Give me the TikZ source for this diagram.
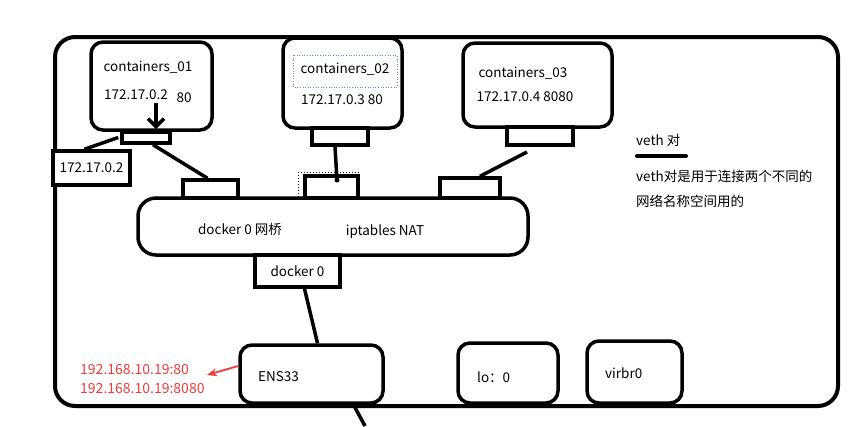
\documentclass[tikz,border=0pt]{standalone}
\usepackage{fontspec}
\setmainfont{Noto Sans CJK SC}
\usetikzlibrary{arrows.meta,calc}
\definecolor{redtxt}{RGB}{240,60,60}
\definecolor{selblue}{RGB}{100,140,180}
\tikzset{
  box/.style={draw, line width=3.5pt, rounded corners=12pt, inner sep=0pt, fill=white},
  port/.style={draw, line width=3.5pt, inner sep=0pt, fill=white},
  wire/.style={line width=3.5pt},
  lbl/.style={inner sep=0pt, font=\fontsize{13.5}{16}\selectfont},
  lbll/.style={lbl, anchor=west},
}
\begin{document}
\begin{tikzpicture}[x=1pt, y=-1pt]
\useasboundingbox (0,0) rectangle (862,426);
% outer frame
\draw[line width=4pt, rounded corners=20pt] (55,37) rectangle (838,406);
% containers
\node[box, minimum width=121pt, minimum height=88pt] (c1) at (151.5,86) {};
\node[box, minimum width=119pt, minimum height=90pt] (c2) at (342.5,83) {};
\node[box, minimum width=149pt, minimum height=84pt] (c3) at (537.5,85) {};
% ports under containers
\node[port, minimum width=48pt, minimum height=11pt] (p1) at (146,137.5) {};
\node[port, minimum width=56pt, minimum height=17pt] (p2) at (340,136.5) {};
\node[port, minimum width=66pt, minimum height=18pt] (p3) at (540,136) {};
% ip box
\node[port, minimum width=77pt, minimum height=34pt] (ip) at (91.5,168) {};
\node[lbl] (iptxt) at (ip) {172.17.0.2};
% bridge
\node[box, rounded corners=18pt, minimum width=390pt, minimum height=57pt] (br) at (333,226.5) {};
% veth boxes on bridge
\node[port, minimum width=55pt, minimum height=18pt] (v1) at (210.5,189) {};
\node[port, minimum width=53pt, minimum height=22pt] (v2) at (331.5,187) {};
\node[port, minimum width=60pt, minimum height=20pt] (v3) at (470,188) {};
\draw[dotted, line width=1pt] (298,172) rectangle (358,198);
% docker0
\node[port, minimum width=85pt, minimum height=32pt] (d0) at (297.5,271) {};
\node[lbl] (d0txt) at (d0) {docker 0};
% bottom interfaces
\node[box, minimum width=143pt, minimum height=58pt] (ens) at (311.5,374) {};
\node[box, minimum width=100pt, minimum height=60pt] (lo) at (508,373) {};
\node[box, minimum width=95pt, minimum height=62pt] (vir) at (634.5,372) {};
% texts
\node[lbl] (t1) at (148,67) {containers\_01};
\node[lbl] (t1ip) at (136,95) {172.17.0.2};
\node[lbl] (t1p) at (184,98) {80};
\node[lbl] (t2) at (345,69) {containers\_02};
\draw[dotted, selblue, line width=0.6pt] (293,55) rectangle (397,87);
\node[lbl] (t2ip) at (342,100) {172.17.0.3 80};
\node[lbl] (t3) at (523,73) {containers\_03};
\node[lbl] (t3ip) at (525,97) {172.17.0.4 8080};
\node[lbl] (brl) at (240,229) {docker 0 网桥};
\node[lbl] (brr) at (385,232) {iptables NAT};
\node[lbll] (enst) at (258,377) {ENS33};
\node[lbll] (lot) at (477,377) {lo：0};
\node[lbll] (virt) at (605,373) {virbr0};
\node[lbll] (veth) at (636,140) {veth 对};
\draw[line width=4pt, line cap=round] (637,156) -- (686,156);
\node[lbll] (vd1) at (636,176) {veth对是用于连接两个不同的};
\node[lbll] (vd2) at (636,201) {网络名称空间用的};
\node[lbll, text=redtxt, font=\fontsize{14}{16}\selectfont] (r1) at (80,370) {192.168.10.19:80};
\node[lbll, text=redtxt, font=\fontsize{14}{16}\selectfont] (r2) at (80,389) {192.168.10.19:8080};
% connectors
\coordinate (a1) at (156,103);
\coordinate (a2) at (156,129);
\draw[wire, -{Straight Barb[length=8pt, width=16pt, line width=3.5pt]}] (a1) -- (a2);
\draw[wire] ([xshift=-2pt]p1.west) -- ([xshift=-7pt]ip.north);
\draw[wire] ([xshift=7pt]p1.south) -- ([xshift=-3pt]v1.north);
\coordinate (v2dot) at (337,180);
\draw[wire] ([xshift=-5pt]p2.south) -- (v2dot);
\fill (v2dot) circle (2.5pt);
\coordinate (p3o) at (527,152);
\draw[wire] (p3o) -- ([xshift=10pt]v3.north);
\draw[wire] ([xshift=7pt]d0.south) -- ([xshift=6pt]ens.north);
\coordinate (down) at (365,426);
\draw[wire] ([xshift=42pt]ens.south) -- (down);
\coordinate (rarr) at (207,375);
\draw[redtxt, line width=1.8pt, -{Stealth[length=10pt, width=8pt]}] ([yshift=8pt]ens.west) -- (rarr);
\end{tikzpicture}
\end{document}
